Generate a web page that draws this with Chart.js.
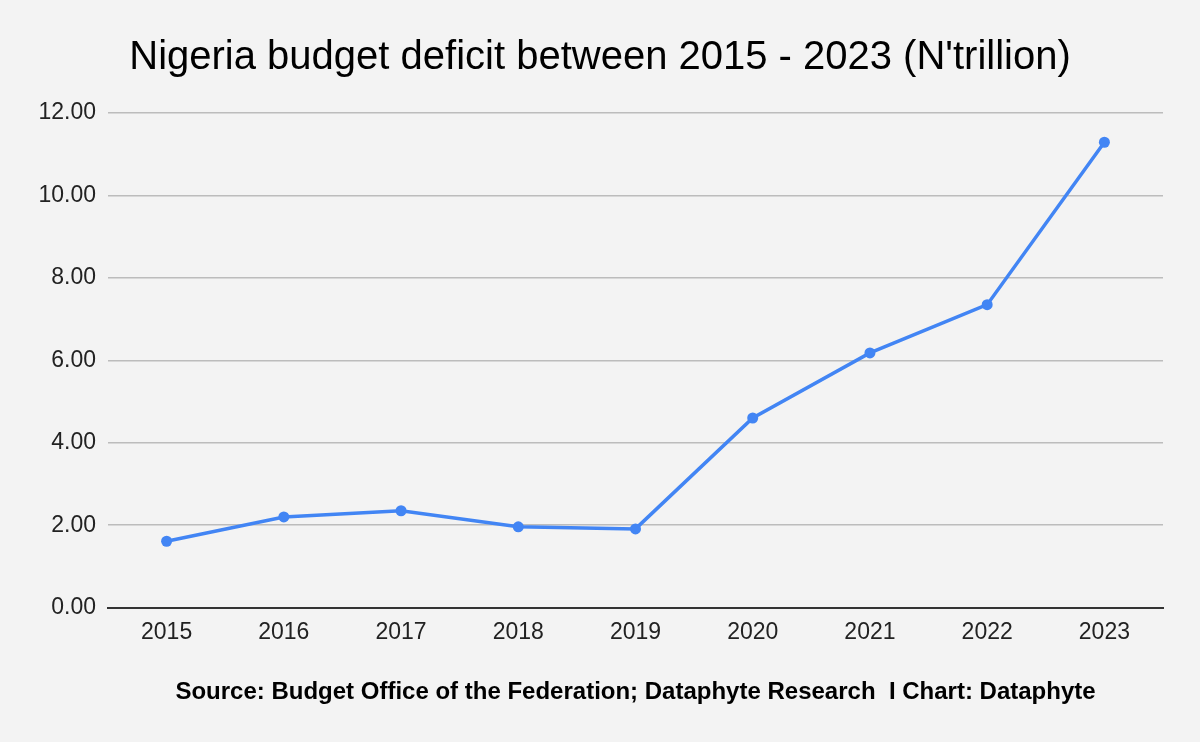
<!DOCTYPE html>
<html>
<head>
<meta charset="utf-8">
<script src="https://cdn.jsdelivr.net/npm/chart.js@4.4.0/dist/chart.umd.min.js"></script>
<style>
  html, body { margin: 0; padding: 0; background: #f3f3f3; }
  #wrap { width: 1200px; height: 742px; }
</style>
</head>
<body>
<div id="wrap"><canvas id="chart" width="1200" height="742"></canvas></div>
<script>
// ===========================
// Data
// ===========================
const years = ["2015","2016","2017","2018","2019","2020","2021","2022","2023"];
const deficit = [1.61, 2.20, 2.35, 1.96, 1.91, 4.60, 6.18, 7.35, 11.29];
const yTicks = [0, 2, 4, 6, 8, 10, 12];

const titleText = "Nigeria budget deficit between 2015 - 2023 (N'trillion)";
const sourceText = "Source: Budget Office of the Federation; Dataphyte Research  I Chart: Dataphyte";

const FONT = "'Liberation Sans', Arial, sans-serif";

// ===========================
// Chart
// ===========================
new Chart(document.getElementById("chart"), {
  type: "line",
  data: {
    labels: years,
    datasets: [{
      data: deficit,
      borderColor: "#4285f4",
      backgroundColor: "#4285f4",
      borderWidth: 3.5,
      pointRadius: 5.5,
      pointBorderWidth: 0,
      pointHoverRadius: 5.5,
      tension: 0,
      fill: false
    }]
  },
  options: {
    responsive: false,
    animation: false,
    // left/right padding equal so the title centres on the canvas
    layout: { padding: { left: 37, right: 37, top: 0, bottom: 0 } },
    plugins: {
      legend: { display: false },
      tooltip: { enabled: false },
      title: {
        display: true,
        text: titleText,
        color: "#000",
        font: { family: FONT, size: 40, weight: "normal" },
        padding: { top: 34, bottom: 31 }
      }
    },
    scales: {
      x: {
        offset: true,
        grid: { display: false, drawTicks: false },
        border: { display: true, color: "#333", width: 2 },
        ticks: {
          color: "#222",
          padding: 11,
          font: { family: FONT, size: 23 }
        },
        title: {
          display: true,
          text: sourceText,
          color: "#000",
          font: { family: FONT, size: 24, weight: "bold" },
          padding: { top: 21, bottom: 35 }
        }
      },
      y: {
        min: 0,
        max: 12,
        afterFit: axis => { axis.width = 71; },
        afterBuildTicks: axis => { axis.ticks = yTicks.map(v => ({ value: v })); },
        grid: { color: "#bcbcbc", lineWidth: 1.5, drawTicks: false },
        border: { display: false },
        ticks: {
          color: "#222",
          padding: 12,
          font: { family: FONT, size: 23 },
          callback: v => v.toFixed(2)
        }
      }
    }
  }
});
</script>
</body>
</html>
